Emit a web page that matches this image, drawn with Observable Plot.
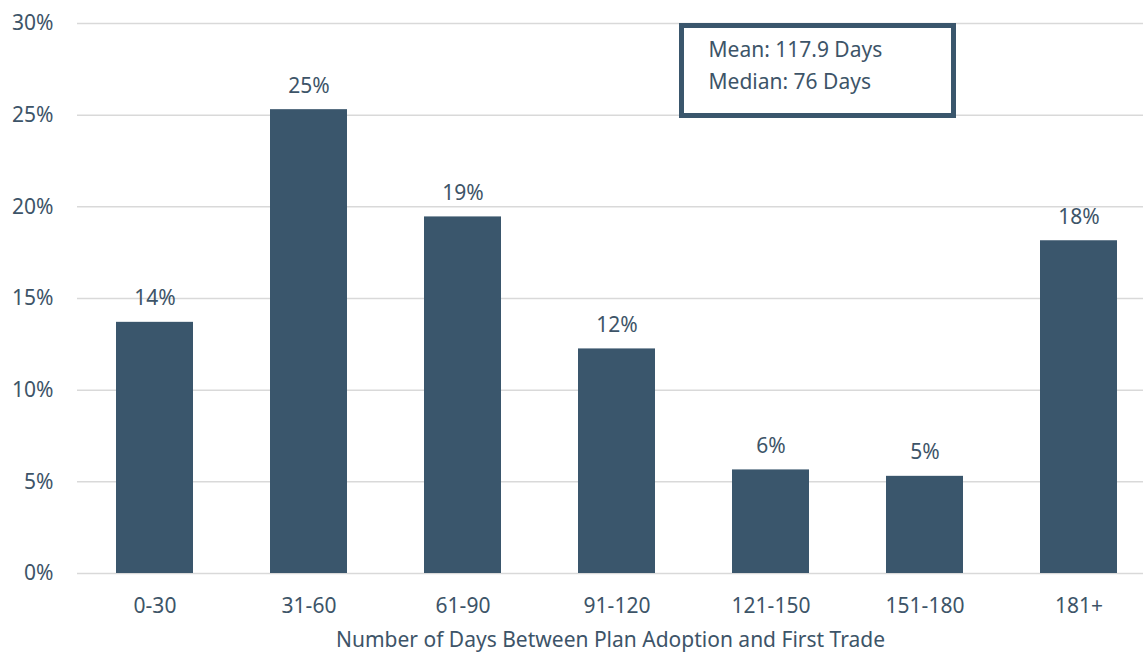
<!DOCTYPE html>
<html>
<head>
<meta charset="utf-8">
<script src="https://cdn.jsdelivr.net/npm/d3@7"></script>
<script src="https://cdn.jsdelivr.net/npm/@observablehq/plot@0.6"></script>
<style>
  html, body { margin: 0; padding: 0; background: #fff; }
  #wrap { position: relative; width: 1143px; height: 653px; font-family: "Noto Sans", sans-serif; }
  #wrap svg { display: block; }
  #note {
    position: absolute; left: 679px; top: 23px; width: 267px; height: 85px;
    border: 5.5px solid #3a566c; background: #fff; color: #3d5468;
    font-size: 21px; line-height: 32.3px; box-sizing: content-box;
  }
  #note div { padding-left: 24.5px; white-space: nowrap; }
</style>
</head>
<body>
<div id="wrap"></div>
<script>
const categories = ["0-30", "31-60", "61-90", "91-120", "121-150", "151-180", "181+"];
const shares = [13.7, 25.3, 19.45, 12.25, 5.65, 5.3, 18.15];
const labels = ["14%", "25%", "19%", "12%", "6%", "5%", "18%"];
const yTicks = [0, 5, 10, 15, 20, 25, 30];
const xTitle = "Number of Days Between Plan Adoption and First Trade";
const noteLines = ["Mean: 117.9 Days", "Median: 76 Days"];

const data = categories.map((c, i) => ({cat: c, v: shares[i], label: labels[i]}));
const ink = "#3d5468";
const barColor = "#3a566c";

const chart = Plot.plot({
  width: 1143,
  height: 653,
  marginLeft: 77,
  marginRight: 0,
  marginTop: 23,
  marginBottom: 80,
  style: {fontFamily: "Noto Sans, sans-serif", fontSize: "21px", color: ink, background: "#fff"},
  x: {domain: categories, range: [77, 1155.5], paddingInner: 0.5, paddingOuter: 0.25, label: null},
  y: {domain: [0, 30], label: null},
  marks: [
    Plot.gridY(yTicks, {stroke: "#d9d9d9", strokeOpacity: 1, strokeWidth: 1.5}),
    Plot.barY(data, {x: "cat", y: "v", fill: barColor}),
    Plot.text(data, {x: "cat", y: "v", text: "label", dy: -17, lineAnchor: "bottom", fill: ink, fontSize: 21}),
    Plot.axisY(yTicks, {tickSize: 0, tickPadding: 24, tickFormat: d => d + "%", fontSize: 21, fill: ink, label: null}),
    Plot.axisX({tickSize: 0, tickPadding: 25, fontSize: 21, fill: ink, label: null}),
    Plot.text([xTitle], {frameAnchor: "bottom", dy: 67, fontSize: 21, fill: ink, lineAnchor: "middle"})
  ]
});

const wrap = document.getElementById("wrap");
wrap.appendChild(chart);
const note = document.createElement("div");
note.id = "note";
noteLines.forEach((t, i) => {
  const d = document.createElement("div");
  d.textContent = t;
  if (i === 0) d.style.marginTop = "5px";
  note.appendChild(d);
});
wrap.appendChild(note);
</script>
</body>
</html>
